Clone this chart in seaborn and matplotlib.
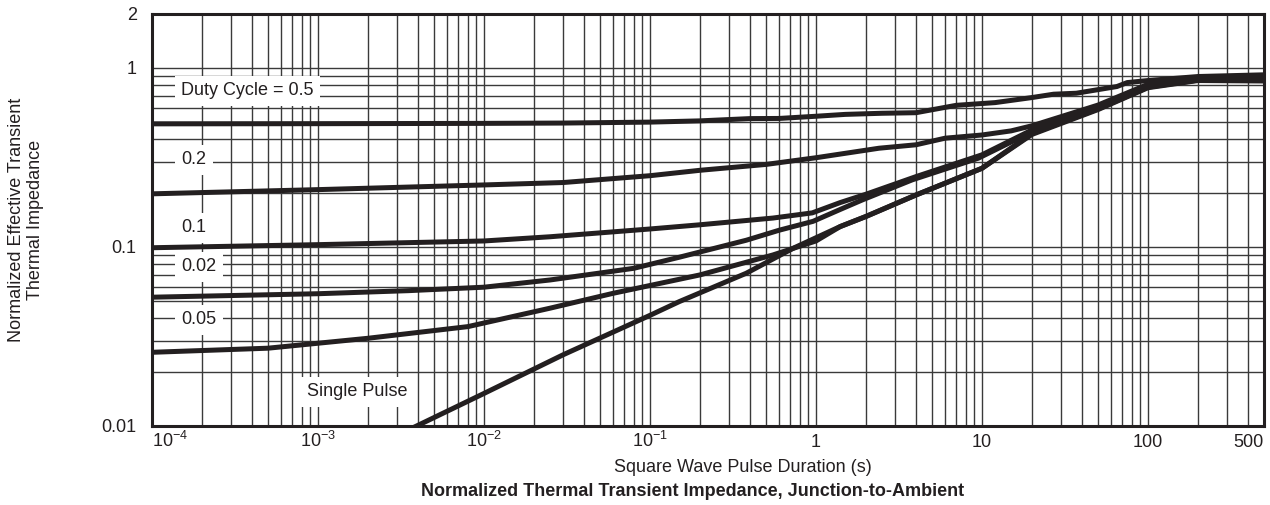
import numpy as np
import pandas as pd
import matplotlib
matplotlib.use("Agg")
import matplotlib.pyplot as plt
from matplotlib.ticker import LogLocator, NullFormatter, FixedLocator
import seaborn as sns

# ---------------- data ----------------
t_d05 = [1e-4, 1e-3, 1e-2, 3e-2, 0.1, 0.2, 0.4, 0.6, 1, 1.5, 2.5, 4, 7, 12, 20, 27, 37, 65, 75, 100, 200, 500]
z_d05 = [0.487, 0.488, 0.490, 0.492, 0.498, 0.506, 0.521, 0.522, 0.537, 0.550, 0.558, 0.562, 0.618, 0.640,
         0.683, 0.713, 0.722, 0.787, 0.828, 0.850, 0.895, 0.915]

t_d02 = [1e-4, 1e-3, 1e-2, 3e-2, 0.1, 0.2, 0.5, 1, 2.4, 4, 6, 10, 15, 20, 50, 100, 200, 500]
z_d02 = [0.198, 0.209, 0.222, 0.229, 0.250, 0.268, 0.289, 0.315, 0.356, 0.372, 0.405, 0.422, 0.445, 0.475,
         0.620, 0.810, 0.875, 0.900]

t_d01 = [1e-4, 1e-3, 1e-2, 2.5e-2, 0.1, 0.2, 0.55, 0.95, 1.4, 2, 4, 10, 20, 50, 100, 200, 500]
z_d01 = [0.099, 0.103, 0.108, 0.114, 0.126, 0.133, 0.145, 0.155, 0.177, 0.197, 0.247, 0.327, 0.450,
         0.610, 0.800, 0.870, 0.890]

t_d005 = [1e-4, 1e-3, 3.5e-3, 1e-2, 2.5e-2, 0.08, 0.15, 0.38, 0.6, 0.96, 1.4, 1.9, 3.8, 9.5, 20, 50, 100, 200, 500]
z_d005 = [0.0524, 0.0548, 0.0570, 0.0596, 0.0654, 0.0760, 0.0876, 0.109, 0.124, 0.139, 0.162, 0.183,
          0.237, 0.313, 0.440, 0.600, 0.790, 0.860, 0.875]

t_d002 = [1e-4, 5e-4, 2e-3, 8e-3, 2.5e-2, 6e-2, 0.2, 0.55, 1, 1.4, 2, 4, 10, 20, 50, 100, 200, 500]
z_d002 = [0.0258, 0.0272, 0.0309, 0.0359, 0.0455, 0.0551, 0.0698, 0.0902, 0.108, 0.130, 0.148, 0.195,
          0.275, 0.430, 0.590, 0.780, 0.855, 0.860]

t_single = [3.5e-3, 1e-2, 3e-2, 0.1, 0.15, 0.38, 0.73, 1.4, 2, 4, 10, 20, 50, 100, 200, 500]
z_single = [0.0095, 0.0152, 0.0250, 0.0415, 0.0495, 0.0713, 0.0984, 0.130, 0.148, 0.195, 0.275,
            0.425, 0.585, 0.775, 0.850, 0.845]

curve_names = ["0.5", "0.2", "0.1", "0.05", "0.02", "single"]
x_tick_values = [1e-4, 1e-3, 1e-2, 1e-1, 1, 10, 100, 500]
x_tick_labels = [r"$\mathregular{10^{-4}}$", r"$\mathregular{10^{-3}}$", r"$\mathregular{10^{-2}}$",
                 r"$\mathregular{10^{-1}}$", "1", "10", "100", "500"]
y_tick_values = [0.01, 0.1, 1, 2]
y_tick_labels = ["0.01", "0.1", "1", "2"]

frames = []
for name, t, z in zip(curve_names,
                      [t_d05, t_d02, t_d01, t_d005, t_d002, t_single],
                      [z_d05, z_d02, z_d01, z_d005, z_d002, z_single]):
    frames.append(pd.DataFrame({"t": t, "z": z, "curve": name}))
df = pd.concat(frames, ignore_index=True)

# ---------------- style ----------------
sns.set_theme(style="white")
plt.rcParams["font.family"] = ["Liberation Sans", "DejaVu Sans"]
plt.rcParams["mathtext.fontset"] = "custom"
plt.rcParams["mathtext.rm"] = "Liberation Sans"

INK = "#231f20"
fig = plt.figure(figsize=(12.7, 5.05), dpi=100)
ax = fig.add_axes([152 / 1270, 79 / 505, 1112 / 1270, 412 / 505])

sns.lineplot(data=df, x="t", y="z", units="curve", estimator=None, sort=False,
             color=INK, lw=3.6, ax=ax, legend=False, zorder=3)

ax.set_xscale("log")
ax.set_yscale("log")
ax.set_xlim(1e-4, 500)
ax.set_ylim(0.01, 2)

ax.xaxis.set_major_locator(FixedLocator(x_tick_values))
ax.set_xticklabels(x_tick_labels)
ax.yaxis.set_major_locator(FixedLocator(y_tick_values))
ax.set_yticklabels(y_tick_labels)
ax.xaxis.set_minor_locator(LogLocator(base=10, subs=np.arange(2, 10), numticks=100))
ax.yaxis.set_minor_locator(LogLocator(base=10, subs=np.arange(2, 10), numticks=100))
ax.xaxis.set_minor_formatter(NullFormatter())
ax.yaxis.set_minor_formatter(NullFormatter())

ax.tick_params(axis="both", which="both", length=0, labelsize=13, colors=INK)
ax.tick_params(axis="y", pad=11)
ax.tick_params(axis="x", pad=15)
for lab in ax.get_xticklabels():
    lab.set_va("baseline")
xl = ax.get_xticklabels()
xl[0].set_ha("left")
xl[-1].set_ha("right")

ax.grid(True, which="both", color="#3a3a3a", lw=1.0, zorder=1)
ax.set_axisbelow(True)
for s in ax.spines.values():
    s.set_color(INK)
    s.set_linewidth(2.2)
ax.set_xlabel("")
ax.set_ylabel("")

# curve labels (white boxes interrupt the grid)
box = dict(boxstyle="square,pad=0.35", fc="white", ec="none")
label_specs = [("Duty Cycle = 0.5", 1.5e-4, 0.744),
               ("0.2", 1.5e-4, 0.306),
               ("0.1", 1.5e-4, 0.128),
               ("0.02", 1.5e-4, 0.0773),
               ("0.05", 1.5e-4, 0.0391),
               ("Single Pulse", 8.6e-4, 0.0155)]
for txt, xx, yy in label_specs:
    ax.text(xx, yy, txt, ha="left", va="center", fontsize=13, color=INK, bbox=box, zorder=4)

fig.text(26 / 1270, 1 - 220 / 505, "Normalized Effective Transient\nThermal Impedance",
         rotation=90, ha="center", va="center", multialignment="center", fontsize=13,
         color=INK, linespacing=1.15)
fig.text(743 / 1270, 1 - 467 / 505, "Square Wave Pulse Duration (s)", ha="center", va="center",
         fontsize=13, color=INK)
fig.text(693 / 1270, 1 - 492 / 505, "Normalized Thermal Transient Impedance, Junction-to-Ambient",
         ha="center", va="center", fontsize=13, fontweight="bold", color=INK)

fig.savefig("out.png", dpi=100, facecolor="white")
